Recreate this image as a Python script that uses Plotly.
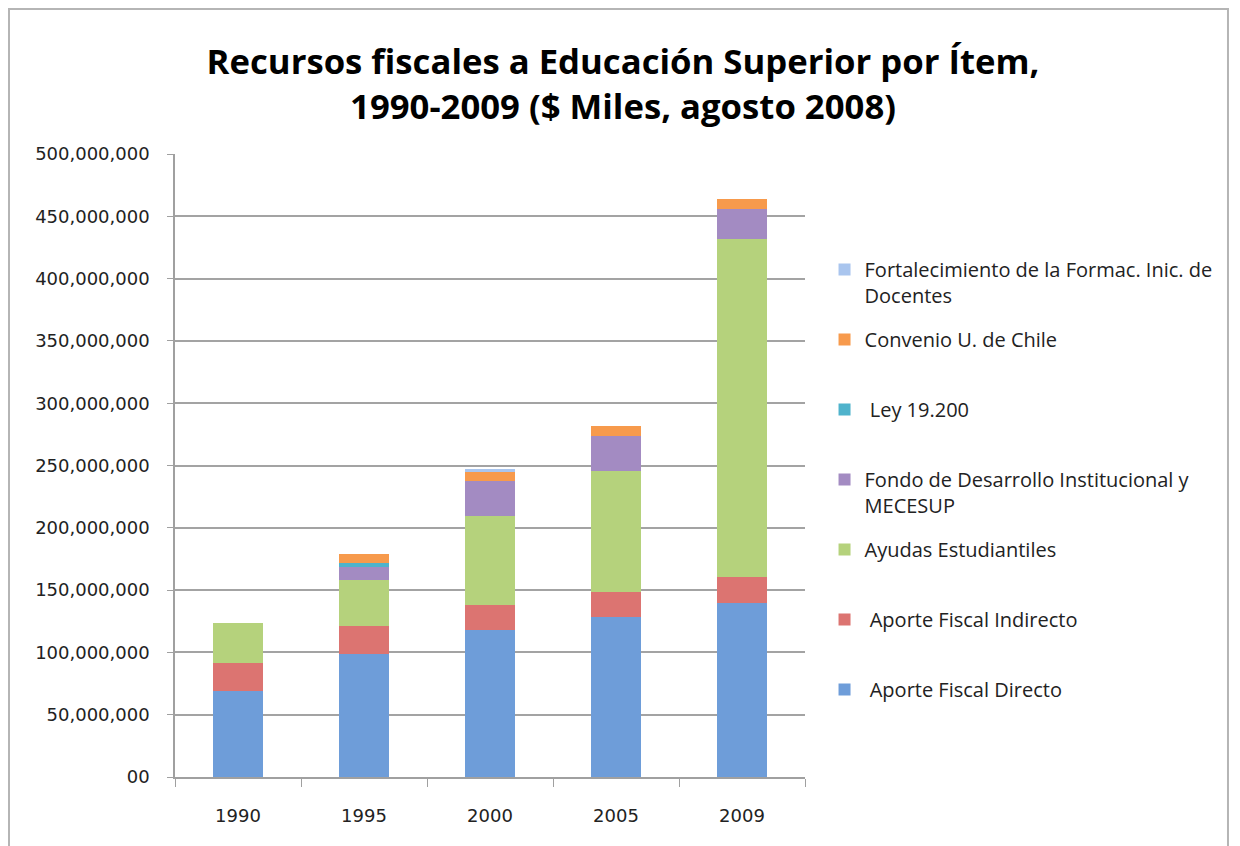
import plotly.graph_objects as go

years = ["1990", "1995", "2000", "2005", "2009"]

aporte_directo = [69.3e6, 98.5e6, 117.7e6, 128.4e6, 139.4e6]
aporte_indirecto = [22.0e6, 22.5e6, 20.3e6, 20.3e6, 20.9e6]
ayudas = [32.3e6, 37.4e6, 71.3e6, 96.5e6, 271.7e6]
fondo_mecesup = [0, 10.4e6, 28.3e6, 28.7e6, 23.9e6]
ley_19200 = [0, 2.7e6, 0, 0, 0]
convenio_uchile = [0, 7.2e6, 7.4e6, 7.5e6, 7.7e6]
fortalecimiento = [0, 0, 2.3e6, 0, 0]

y_ticks = [0, 50e6, 100e6, 150e6, 200e6, 250e6, 300e6, 350e6, 400e6, 450e6, 500e6]
y_ticktext = ["00", "50,000,000", "100,000,000", "150,000,000", "200,000,000",
              "250,000,000", "300,000,000", "350,000,000", "400,000,000",
              "450,000,000", "500,000,000"]

# (name, values, colour) bottom to top of the stack
series = [
    ("\u00a0Aporte Fiscal Directo", aporte_directo, "#6E9DD9"),
    ("\u00a0Aporte Fiscal Indirecto", aporte_indirecto, "#DC7471"),
    ("Ayudas Estudiantiles", ayudas, "#B5D27C"),
    ("Fondo de Desarrollo Institucional y<br>MECESUP", fondo_mecesup, "#A38BC2"),
    ("\u00a0Ley 19.200", ley_19200, "#4FB3CC"),
    ("Convenio U. de Chile", convenio_uchile, "#F79A4C"),
    ("Fortalecimiento de la Formac. Inic. de<br>Docentes", fortalecimiento, "#A9C5EE"),
]

fig = go.Figure()
n = len(series)
for i, (name, vals, col) in enumerate(series):
    # pad single-line entries so every legend row has the same height
    label = name if "<br>" in name else name + "<br>\u00a0"
    fig.add_trace(go.Bar(
        x=years, y=vals, name=label, legendgroup=f"g{i}", legendrank=n - i,
        marker=dict(color=col, line=dict(width=0)),
        width=0.4,
    ))

# chart frame (open at the bottom, like the cropped original)
fig.add_shape(type="rect", xref="paper", yref="paper",
              x0=-0.2635, x1=1.6714, y0=-0.2, y1=1.2327,
              line=dict(color="#B5B5B5", width=2), fillcolor="rgba(0,0,0,0)")

fig.update_layout(
    width=1240, height=846,
    barmode="stack",
    plot_bgcolor="white", paper_bgcolor="white",
    margin=dict(l=167, r=443, t=146, b=77),
    title=dict(
        text="Recursos fiscales a Educación Superior por Ítem,<br>1990-2009 ($ Miles, agosto 2008)",
        x=0.496, xanchor="center", y=0.922, yanchor="middle",
        font=dict(family="Open Sans", size=34.7, color="black", weight="bold"),
    ),
    legend=dict(
        x=1.031, xanchor="left", y=0.846, yanchor="top",
        traceorder="grouped", tracegroupgap=15,
        valign="top",
        font=dict(family="Open Sans", size=20, color="#222222"),
        bgcolor="rgba(0,0,0,0)",
    ),
)
fig.update_xaxes(
    type="category", tickson="boundaries", ticks="outside", ticklen=8,
    tickcolor="#A0A0A0", showline=True, linecolor="#A0A0A0", linewidth=1.5,
    tickfont=dict(family="DejaVu Sans", size=18, color="#222222"),
    ticklabelstandoff=22,
    showgrid=False,
)
fig.update_yaxes(
    range=[0, 500e6], tickvals=y_ticks, ticktext=y_ticktext,
    ticks="outside", ticklen=6, tickcolor="#A0A0A0",
    showline=True, linecolor="#A0A0A0", linewidth=1.5,
    showgrid=True, gridcolor="#A3A3A3", gridwidth=1.5,
    tickfont=dict(family="DejaVu Sans", size=18, color="#222222"),
    ticklabelstandoff=14,
    zeroline=False,
)

fig.write_html("out.html")
